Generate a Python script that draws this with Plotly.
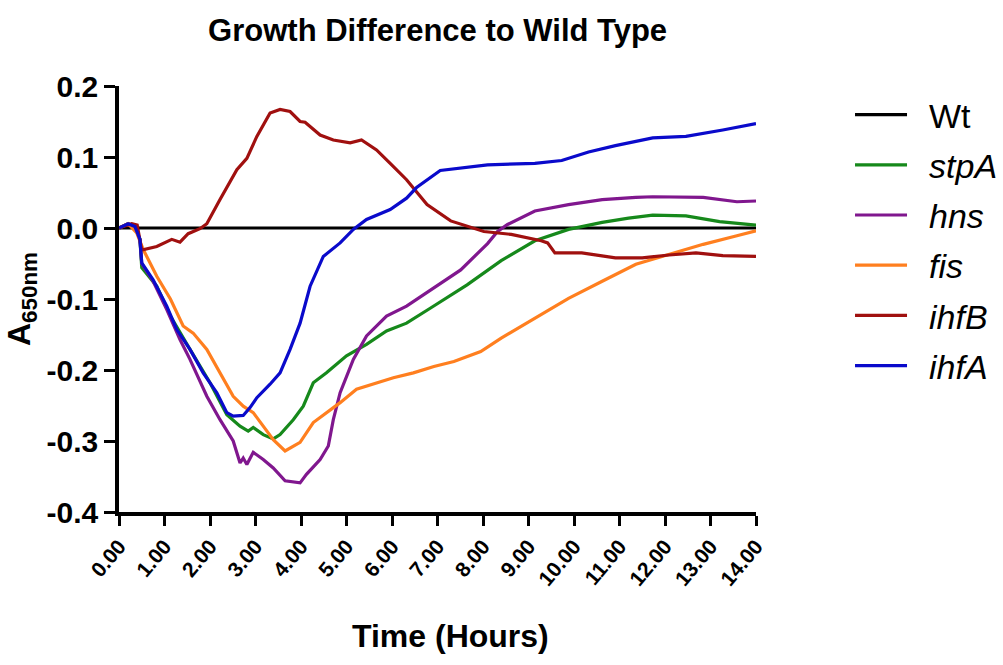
import plotly.graph_objects as go

# ---- data ----
series_names = ["Wt", "stpA", "hns", "fis", "ihfB", "ihfA"]
series_colors = ["#000000", "#16891B", "#80178E", "#FF7F1F", "#A0100F", "#0A0ACB"]

t_wt = [0.0, 14.0]
y_wt = [0.0, 0.0]

t_stpA = [0, 0.2, 0.35, 0.46, 0.5, 0.83, 1.13, 1.34, 1.56, 2.0, 2.37, 2.66, 2.84, 2.95, 3.17, 3.39,
          3.54, 3.83, 4.05, 4.27, 4.56, 5.0, 5.44, 5.88, 6.32, 6.84, 7.65, 8.4, 9.14, 9.88, 10.62,
          11.2, 11.73, 12.46, 13.2, 14.0]
y_stpA = [0, 0.006, 0.002, -0.016, -0.056, -0.082, -0.124, -0.148, -0.171, -0.218, -0.263, -0.279,
          -0.286, -0.281, -0.291, -0.297, -0.291, -0.27, -0.251, -0.218, -0.204, -0.18, -0.164, -0.145,
          -0.134, -0.113, -0.08, -0.046, -0.018, -0.002, 0.008, 0.014, 0.018, 0.017, 0.009, 0.004]

t_hns = [0, 0.2, 0.35, 0.46, 0.5, 0.75, 1.05, 1.34, 1.56, 1.93, 2.22, 2.51, 2.66, 2.73, 2.81, 2.95,
         3.17, 3.39, 3.65, 3.98, 4.12, 4.42, 4.6, 4.71, 4.86, 5.15, 5.44, 5.88, 6.32, 6.84, 7.51, 8.1,
         8.32, 8.54, 9.14, 9.88, 10.62, 11.36, 11.73, 12.84, 13.58, 14.0]
y_hns = [0, 0.006, 0.002, -0.016, -0.05, -0.075, -0.115, -0.157, -0.185, -0.237, -0.27, -0.3, -0.331,
         -0.324, -0.333, -0.316, -0.326, -0.338, -0.356, -0.359, -0.347, -0.326, -0.307, -0.27, -0.232,
         -0.185, -0.152, -0.124, -0.11, -0.088, -0.059, -0.022, -0.005, 0.005, 0.024, 0.033, 0.04,
         0.043, 0.044, 0.043, 0.037, 0.038]

t_fis = [0, 0.2, 0.39, 0.53, 0.83, 1.13, 1.41, 1.63, 1.93, 2.22, 2.51, 2.73, 2.95, 3.17, 3.39, 3.65,
         3.98, 4.27, 4.56, 4.86, 5.22, 5.66, 6.03, 6.47, 6.92, 7.36, 7.95, 8.4, 9.14, 9.88, 10.62,
         11.36, 12.1, 12.84, 13.58, 14.0]
y_fis = [0, 0.006, -0.007, -0.03, -0.068, -0.1, -0.138, -0.148, -0.171, -0.204, -0.237, -0.251,
         -0.26, -0.279, -0.298, -0.314, -0.302, -0.274, -0.26, -0.246, -0.227, -0.218, -0.211, -0.204,
         -0.195, -0.188, -0.174, -0.155, -0.127, -0.099, -0.075, -0.051, -0.037, -0.023, -0.011, -0.004]

t_ihfB = [0, 0.28, 0.4, 0.5, 0.83, 1.16, 1.34, 1.52, 1.78, 1.93, 2.22, 2.59, 2.81, 3.03, 3.32, 3.54,
          3.76, 3.98, 4.09, 4.42, 4.71, 5.08, 5.33, 5.66, 5.96, 6.32, 6.77, 7.29, 8.02, 8.62, 9.28,
          9.42, 9.58, 10.17, 10.91, 11.5, 12.09, 12.68, 13.27, 14.0]
y_ihfB = [0, 0.006, 0.004, -0.031, -0.026, -0.016, -0.02, -0.008, -0.001, 0.006, 0.04, 0.082, 0.098,
          0.129, 0.162, 0.167, 0.164, 0.15, 0.149, 0.131, 0.124, 0.12, 0.124, 0.11, 0.091, 0.068,
          0.033, 0.01, -0.005, -0.009, -0.018, -0.021, -0.035, -0.035, -0.042, -0.042, -0.038,
          -0.035, -0.039, -0.04]

t_ihfA = [0, 0.2, 0.35, 0.46, 0.5, 0.75, 1.05, 1.27, 1.56, 1.85, 2.15, 2.37, 2.51, 2.73, 2.88, 3.03,
          3.32, 3.54, 3.76, 3.98, 4.2, 4.49, 4.86, 5.15, 5.44, 5.96, 6.32, 6.54, 7.06, 7.65, 8.1,
          9.14, 9.73, 10.32, 10.91, 11.73, 12.46, 13.27, 14.0]
y_ihfA = [0, 0.006, 0.002, -0.016, -0.049, -0.073, -0.11, -0.143, -0.171, -0.204, -0.232, -0.26,
          -0.265, -0.264, -0.253, -0.239, -0.22, -0.204, -0.171, -0.134, -0.082, -0.04, -0.021,
          -0.002, 0.012, 0.026, 0.042, 0.057, 0.081, 0.085, 0.089, 0.091, 0.095, 0.107, 0.116,
          0.127, 0.129, 0.138, 0.147]

x_tickvals = [0, 1, 2, 3, 4, 5, 6, 7, 8, 9, 10, 11, 12, 13, 14]
x_ticktext = ["0.00", "1.00", "2.00", "3.00", "4.00", "5.00", "6.00", "7.00", "8.00", "9.00",
              "10.00", "11.00", "12.00", "13.00", "14.00"]
y_tickvals = [0.2, 0.1, 0.0, -0.1, -0.2, -0.3, -0.4]
y_ticktext = ["0.2", "0.1", "0.0", "-0.1", "-0.2", "-0.3", "-0.4"]

all_t = [t_wt, t_stpA, t_hns, t_fis, t_ihfB, t_ihfA]
all_y = [y_wt, y_stpA, y_hns, y_fis, y_ihfB, y_ihfA]

FONT = "Arial, Liberation Sans, sans-serif"

fig = go.Figure()
for name, color, tt, yy in zip(series_names, series_colors, all_t, all_y):
    label = name if name == "Wt" else f"<i>{name}</i>"
    fig.add_trace(go.Scatter(
        x=tt, y=yy, mode="lines", name="\u2002" + label, legendgroup=name,
        line=dict(color=color, width=3.2),
    ))

fig.update_layout(
    width=1003, height=665,
    paper_bgcolor="white", plot_bgcolor="white",
    margin=dict(l=119, r=247, t=86, b=153, autoexpand=False),
    font=dict(family=FONT, color="black"),
    title=dict(text="<b>Growth Difference to Wild Type</b>", x=0.4363, xref="container",
               xanchor="center", y=1 - 30 / 665, yref="container", yanchor="middle",
               font=dict(size=31, family=FONT, color="black")),
    showlegend=True,
    legend=dict(x=1.1476, xanchor="left", y=1.0, yanchor="top",
                font=dict(size=34, family=FONT, color="black"),
                traceorder="grouped", tracegroupgap=3, bgcolor="rgba(0,0,0,0)",
                itemwidth=52),
)

fig.update_xaxes(
    range=[0, 14], tickmode="array", tickvals=x_tickvals, ticktext=x_ticktext,
    tickangle=-50, tickfont=dict(size=21, family=FONT, weight="bold", color="black"),
    showline=True, linecolor="black", linewidth=3.5, mirror=False,
    ticks="outside", ticklen=10, tickwidth=3, tickcolor="black",
    showgrid=False, zeroline=False,
)
fig.update_yaxes(
    range=[-0.4, 0.2], tickmode="array", tickvals=y_tickvals, ticktext=y_ticktext,
    tickfont=dict(size=30, family=FONT, weight="bold", color="black"),
    showline=True, linecolor="black", linewidth=3.5,
    ticks="outside", ticklen=11, tickwidth=3, tickcolor="black",
    showgrid=False, zeroline=False,
    title=dict(text="<b>A<sub>650nm</sub></b>", font=dict(size=32, family=FONT, color="black"),
               standoff=7),
)

fig.add_annotation(
    text="<b>Time (Hours)</b>", xref="paper", yref="paper",
    x=(450 - 119) / 637, y=-(636 - 512) / 426, xanchor="center", yanchor="middle",
    showarrow=False, font=dict(size=32, family=FONT, color="black"),
)

fig.write_html("out.html", config={"displayModeBar": False},
               post_script="document.body.style.margin='0';")
